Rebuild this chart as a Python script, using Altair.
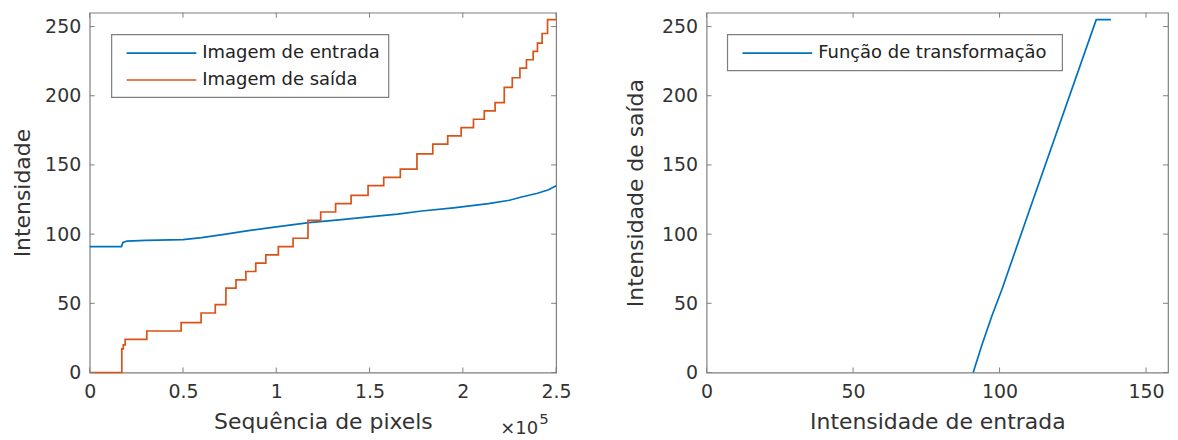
import altair as alt
import pandas as pd

# ---------------- data ----------------
in_x = [0, 17000, 17800, 20000, 30000, 50000, 60000, 73000, 85000, 100000, 117500,
        135000, 149600, 165000, 178000, 195000, 213700, 225000, 231500, 240000, 246000, 250000]
in_y = [91, 91, 94, 95, 95.5, 96, 97.5, 100, 102.5, 105.2, 108.3,
        110.5, 112.4, 114.5, 116.7, 119, 122, 124.5, 126.8, 129.5, 132, 135]

out_x = [0, 17200, 18000, 19000, 30600, 49000, 59700, 67300, 73000, 78400, 83700, 89000,
         94400, 101100, 109000, 117000, 123800, 131800, 140100, 149200, 157600, 166500,
         175400, 183900, 191900, 199100, 205700, 211500, 217300, 222200, 226500, 230600,
         234100, 237700, 240000, 242500, 245400, 250000]
out_y = [0, 17, 20, 24, 30, 36, 43, 49, 61, 67, 73, 79,
         85, 91, 97, 110, 116, 122, 128, 135, 141, 147,
         158, 165, 171, 177, 183, 189, 195, 206, 213, 220,
         226, 232, 238, 245, 255, 255]

tf_in = [91, 94, 97.4, 100.8, 111.3, 133, 138]
tf_out = [0, 20, 41, 60, 124, 255, 255]

left_legend = ["Imagem de entrada", "Imagem de saída"]
right_legend = ["Função de transformação"]
left_xticks = [0, 50000, 100000, 150000, 200000, 250000]
right_xticks = [0, 50, 100, 150]
yticks = [0, 50, 100, 150, 200, 250]

# ---------------- style ----------------
BLUE = "#0072BD"
ORANGE = "#D95319"
AX = "#7f7f7f"
TXT = "#333333"
FONT = "DejaVu Sans"
W1, W2, H = 468, 463, 361
TICK = 5
one = pd.DataFrame({"k": [0]})


def panel(lines, xdom, xticks, xtitle, ytitle, W, legend, box, label_expr, ytitle_pad):
    xscale = alt.Scale(domain=xdom, nice=False, zero=False)
    yscale = alt.Scale(domain=[0, 260], nice=False)
    if label_expr:
        xaxis = alt.Axis(values=xticks, title=xtitle, labelExpr=label_expr)
    else:
        xaxis = alt.Axis(values=xticks, title=xtitle)
    yaxis = alt.Axis(values=yticks, title=ytitle, titlePadding=ytitle_pad)

    def X():
        return alt.X("x:Q", scale=xscale, axis=xaxis)

    def Y():
        return alt.Y("y:Q", scale=yscale, axis=yaxis)

    layers = []
    for df, color, interp in lines:
        layers.append(
            alt.Chart(df).mark_line(color=color, strokeWidth=1.7, interpolate=interp)
            .encode(x=X(), y=Y())
        )
    xt = pd.DataFrame({"x": xticks})
    yt = pd.DataFrame({"y": yticks})
    for y0, y1 in [(H, H - TICK), (0, TICK)]:
        layers.append(
            alt.Chart(xt).mark_rule(color=AX, strokeWidth=1)
            .encode(x=X(), y=alt.value(y0), y2=alt.value(y1))
        )
    for x0, x1 in [(0, TICK), (W, W - TICK)]:
        layers.append(
            alt.Chart(yt).mark_rule(color=AX, strokeWidth=1)
            .encode(y=Y(), x=alt.value(x0), x2=alt.value(x1))
        )
    # legend box
    bx0, bx1, by0, by1 = box
    layers.append(
        alt.Chart(one).mark_rect(fill="white", stroke=AX, strokeWidth=1.2)
        .encode(x=alt.value(bx0), x2=alt.value(bx1), y=alt.value(by0), y2=alt.value(by1))
    )
    for i, (lab, col) in enumerate(legend):
        yy = 40.5 + 27 * i
        layers.append(
            alt.Chart(one).mark_rule(color=col, strokeWidth=1.7)
            .encode(x=alt.value(bx0 + 15), x2=alt.value(bx0 + 85), y=alt.value(yy))
        )
        layers.append(
            alt.Chart(one).mark_text(align="left", baseline="middle", font=FONT,
                                     fontSize=18, color="#222222")
            .encode(x=alt.value(bx0 + 91), y=alt.value(yy), text=alt.value(lab))
        )
    return layers


left_df_in = pd.DataFrame({"x": in_x, "y": in_y})
left_df_out = pd.DataFrame({"x": out_x, "y": out_y})
right_df = pd.DataFrame({"x": tf_in, "y": tf_out})

left_layers = panel(
    [(left_df_in, BLUE, "linear"), (left_df_out, ORANGE, "step-after")],
    [0, 250000], left_xticks, "Sequência de pixels", "Intensidade", W1,
    list(zip(left_legend, [BLUE, ORANGE])), (22, 300, 22, 85),
    "datum.value / 100000", 10,
)
left_layers.append(
    alt.Chart(one).mark_text(align="right", baseline="alphabetic", font=FONT,
                             fontSize=18, color=TXT)
    .encode(x=alt.value(450), y=alt.value(423), text=alt.value("×10"))
)
left_layers.append(
    alt.Chart(one).mark_text(align="left", baseline="alphabetic", font=FONT,
                             fontSize=15, color=TXT)
    .encode(x=alt.value(451), y=alt.value(413), text=alt.value("5"))
)

right_layers = panel(
    [(right_df, BLUE, "linear")],
    [0, 157.5], right_xticks, "Intensidade de entrada", "Intensidade de saída", W2,
    list(zip(right_legend, [BLUE])), (21, 357, 22, 58),
    None, 14,
)

left = alt.layer(*left_layers).properties(width=W1, height=H)
right = alt.layer(*right_layers).properties(width=W2, height=H)

chart = (
    alt.hconcat(left, right, spacing=52)
    .properties(padding={"left": 3, "top": 2, "right": 0, "bottom": 0}, background="white")
    .configure_axis(
        labelFont=FONT, labelFontSize=19, labelColor=TXT,
        titleFont=FONT, titleFontSize=22, titleFontWeight="normal", titleColor=TXT,
        domain=False, ticks=False, tickSize=0, grid=False, labelFlush=False,
    )
    .configure_axisX(labelPadding=10, titlePadding=10)
    .configure_axisY(labelPadding=9)
    .configure_view(stroke=AX, strokeWidth=1.2)
)

chart.save("out.html", embed_options={"renderer": "svg", "actions": False})
